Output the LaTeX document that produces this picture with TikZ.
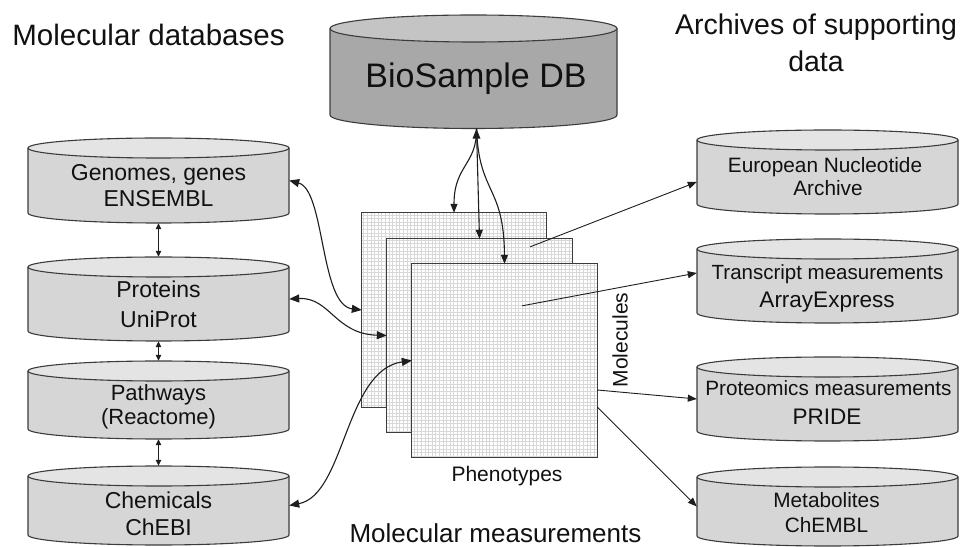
\documentclass[tikz,border=0pt]{standalone}
\usepackage{fontspec}
\setmainfont{Liberation Sans}
\usetikzlibrary{arrows.meta,calc}
\definecolor{cylbody}{HTML}{D6D6D6}
\definecolor{cyltop}{HTML}{E4E4E4}
\definecolor{biobody}{HTML}{A8A8A8}
\definecolor{biotop}{HTML}{C4C4C4}
\definecolor{edgec}{HTML}{3C3C3C}
\definecolor{linec}{HTML}{1E1E1E}
\definecolor{txtc}{HTML}{111111}
\definecolor{gridc}{HTML}{D8D8D8}
\newcommand\dbcyl[8]{%
  \fill[#7] (#2-#5,#3) -- (#2-#5,#4) arc[start angle=180,end angle=360,x radius=#5,y radius=#6] -- (#2+#5,#3) -- cycle;
  \draw[cyledge] (#2-#5,#3) -- (#2-#5,#4) arc[start angle=180,end angle=360,x radius=#5,y radius=#6] -- (#2+#5,#3);
  \filldraw[fill=#8,cyledge] (#2,#3) ellipse[x radius=#5,y radius=#6];
  \node[inner sep=0pt,minimum width={2*#5},minimum height={#3-#4+2*#6}] (#1) at (#2,{(#3+#4)/2}) {};
}
\newcommand\sheet[5]{%
  \node[inner sep=0pt,minimum width=#4,minimum height=#5,fill=white] (#1) at (#2,#3) {};
  \draw[gridc,line width=0.4pt,step=3.6] (#1.south west) grid (#1.north east);
  \draw[edgec,line width=1.2pt] (#1.south west) rectangle (#1.north east);
}
\tikzset{
  cyledge/.style={draw=edgec,line width=1.1pt},
  lbl/.style={anchor=base,inner sep=0pt,text=txtc},
  conn/.style={draw=linec,line width=1.1pt},
  tip/.style={-{Triangle[length=9pt,width=7pt]}},
  dtip/.style={{Triangle[length=10pt,width=8pt]}-{Triangle[length=10pt,width=8pt]}},
  stip/.style={{Triangle[length=6pt,width=5.5pt]}-{Triangle[length=6pt,width=5.5pt]}},
}
\begin{document}
\begin{tikzpicture}[x=1pt,y=1pt]
\useasboundingbox[fill=white] (0,0) rectangle (971,546);

% BioSample DB
\dbcyl{bio}{473.5}{517.5}{431}{143.5}{13.5}{biobody}{biotop}
\node[lbl] (biot) at (476,458) {\fontsize{34}{34}\selectfont BioSample DB};

% left cylinders
\dbcyl{gen}{158.5}{398}{333}{130.5}{10}{cylbody}{cyltop}
\dbcyl{pro}{158.5}{279}{215}{130.5}{10}{cylbody}{cyltop}
\dbcyl{pat}{158.5}{175}{117}{130.5}{10}{cylbody}{cyltop}
\dbcyl{che}{158.5}{70}{11}{130.5}{10}{cylbody}{cyltop}
\node[lbl] (genA) at (158.5,365) {\fontsize{23}{23}\selectfont Genomes, genes};
\node[lbl] (genB) at (158.5,339) {\fontsize{23}{23}\selectfont ENSEMBL};
\node[lbl] (proA) at (158.5,248) {\fontsize{23}{23}\selectfont Proteins};
\node[lbl] (proB) at (158.5,218) {\fontsize{23}{23}\selectfont UniProt};
\node[lbl] (patA) at (158.5,145) {\fontsize{22}{22}\selectfont Pathways};
\node[lbl] (patB) at (158.5,121) {\fontsize{22}{22}\selectfont (Reactome)};
\node[lbl] (cheA) at (158.5,38) {\fontsize{23}{23}\selectfont Chemicals};
\node[lbl] (cheB) at (158.5,11) {\fontsize{23}{23}\selectfont ChEBI};

% right cylinders
\dbcyl{ena}{827.5}{406}{342}{130.5}{10}{cylbody}{cyltop}
\dbcyl{tra}{827.5}{297}{233}{130.5}{10}{cylbody}{cyltop}
\dbcyl{prm}{827.5}{179}{115}{130.5}{10}{cylbody}{cyltop}
\dbcyl{met}{827.5}{69}{10}{130.5}{10}{cylbody}{cyltop}
\node[lbl] (enaA) at (825,373.5) {\fontsize{20.8}{20.8}\selectfont European Nucleotide};
\node[lbl] (enaB) at (828,350.5) {\fontsize{20.8}{20.8}\selectfont Archive};
\node[lbl] (traA) at (827.5,266.5) {\fontsize{20.5}{20.5}\selectfont Transcript measurements};
\node[lbl] (traB) at (827,238.5) {\fontsize{22.5}{22.5}\selectfont ArrayExpress};
\node[lbl] (prmA) at (828.5,150.5) {\fontsize{20.7}{20.7}\selectfont Proteomics measurements};
\node[lbl] (prmB) at (827,121) {\fontsize{22.5}{22.5}\selectfont PRIDE};
\node[lbl] (metA) at (826.5,38.5) {\fontsize{20.8}{20.8}\selectfont Metabolites};
\node[lbl] (metB) at (826.5,13.5) {\fontsize{20.8}{20.8}\selectfont ChEMBL};

% titles
\node[lbl] (ttlL) at (148.5,500) {\fontsize{29.5}{29.5}\selectfont Molecular databases};
\node[lbl] (ttlR1) at (816,511) {\fontsize{28.5}{28.5}\selectfont Archives of supporting};
\node[lbl] (ttlR2) at (816,474) {\fontsize{28.5}{28.5}\selectfont data};
\node[lbl] (ttlB) at (495.5,4) {\fontsize{26}{26}\selectfont Molecular measurements};

% sheets
\sheet{s1}{454}{236}{184}{194}
\sheet{s2}{479.5}{210.5}{185}{193}
\sheet{s3}{504.5}{185.5}{185}{193}
\node[lbl] (phen) at (507,64) {\fontsize{21}{21}\selectfont Phenotypes};
\node[anchor=south,inner sep=0pt,text=txtc,rotate=90] (mol) at (628,206) {\fontsize{21}{21}\selectfont Molecules};

% connectors from BioSample
\coordinate (bs) at ([xshift=3]bio.south);
\draw[conn,tip] (bs) .. controls (477,381) and (454,381) .. (s1.north);
\draw[conn,tip] (bs) -- (s2.north);
\draw[conn,tip] (bs) .. controls (479,351) and (504,361) .. (s3.north);
\fill[linec] (bs) -- ++(-4,-10) -- ++(8,0) -- cycle;

% left connectors
\draw[conn,dtip] (gen.east) .. controls (325,356) and (320,241) .. (s1.west);
\draw[conn,dtip] (pro.east) .. controls (330,249) and (335,212) .. (s2.west);
\draw[conn,dtip] (che.east) .. controls (345,51) and (345,176) .. (s3.west);
\draw[conn,stip] (gen.south) -- (pro.north);
\draw[conn,stip] (pro.south) -- (pat.north);
\draw[conn,stip] (pat.south) -- (che.north);

% right connectors
\draw[conn,tip,line width=0.9pt] ($(s2.north east)+(-42,-8)$) -- ([yshift=-10]ena.west);
\draw[conn,tip,line width=0.9pt] ($(s3.north east)+(-75,-42)$) -- ([yshift=8]tra.west);
\draw[conn,tip,line width=0.9pt] ([yshift=-29.5]s3.east) -- (prm.west);
\draw[conn,tip,line width=0.9pt] ([yshift=-46.5]s3.east) -- (met.west);
\end{tikzpicture}
\end{document}
